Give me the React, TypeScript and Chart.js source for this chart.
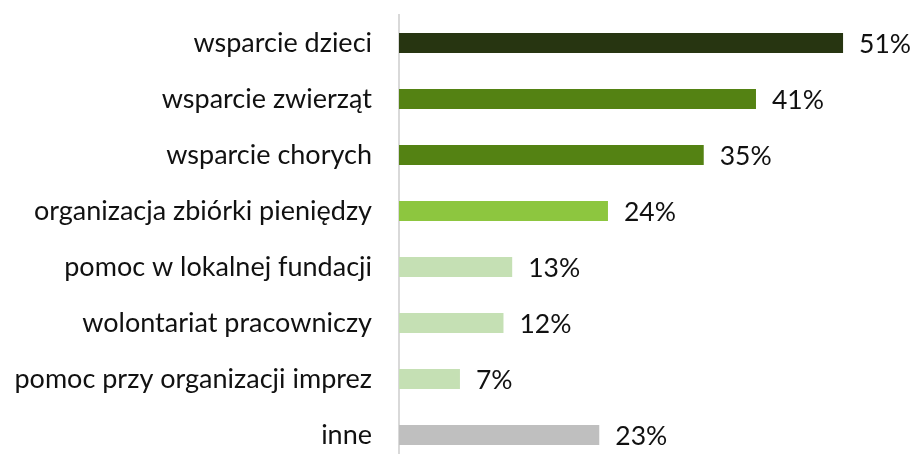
import React, { useEffect, useRef } from "react";
import { Chart, registerables } from "chart.js";

Chart.register(...registerables);

const categories = [
  "wsparcie dzieci",
  "wsparcie zwierząt",
  "wsparcie chorych",
  "organizacja zbiórki pieniędzy",
  "pomoc w lokalnej fundacji",
  "wolontariat pracowniczy",
  "pomoc przy organizacji imprez",
  "inne",
];
const values = [51, 41, 35, 24, 13, 12, 7, 23];
const barColors = [
  "#273511",
  "#548213",
  "#548213",
  "#8dc63f",
  "#c5e0b4",
  "#c5e0b4",
  "#c5e0b4",
  "#bfbfbf",
];
const FONT = "Lato, 'Open Sans', sans-serif";

const valueLabels = {
  id: "valueLabels",
  afterDatasetsDraw(chart: any) {
    const ctx = chart.ctx;
    const meta = chart.getDatasetMeta(0);
    ctx.save();
    ctx.font = `26.5px ${FONT}`;
    ctx.fillStyle = "#111";
    ctx.textAlign = "left";
    ctx.textBaseline = "middle";
    meta.data.forEach((bar: any, i: number) => {
      ctx.fillText(values[i] + "%", bar.x + 16, bar.y + 1);
    });
    ctx.restore();
  },
};

export default function App() {
  const ref = useRef<HTMLCanvasElement>(null);
  useEffect(() => {
    if (!ref.current) return;
    const chart = new Chart(ref.current, {
      type: "bar",
      data: {
        labels: categories,
        datasets: [
          {
            data: values,
            backgroundColor: barColors,
            borderWidth: 0,
            barPercentage: 0.357,
            categoryPercentage: 1,
          },
        ],
      },
      options: {
        indexAxis: "y",
        animation: false,
        responsive: true,
        maintainAspectRatio: false,
        layout: { padding: { top: 15, bottom: 7, left: 0, right: 9 } },
        plugins: { legend: { display: false }, tooltip: { enabled: false } },
        scales: {
          x: { display: false, min: 0, max: 58 },
          y: {
            afterFit(scale: any) {
              scale.width = 399;
              scale.paddingTop = 0;
              scale.paddingBottom = 0;
            },
            grid: { display: false, drawTicks: false },
            border: { display: true, color: "#d9d9d9", width: 2 },
            ticks: {
              padding: 27,
              color: "#111",
              font: { family: FONT, size: 27 },
            },
          },
        },
      },
      plugins: [valueLabels],
    });
    return () => chart.destroy();
  }, []);
  return (
    <div
      style={{
        position: "fixed",
        left: 0,
        top: 0,
        width: 913,
        height: 454,
        overflow: "hidden",
        background: "#fff",
      }}
    >
      <div style={{ position: "relative", width: 913, height: 470 }}>
        <canvas ref={ref} />
      </div>
    </div>
  );
}
